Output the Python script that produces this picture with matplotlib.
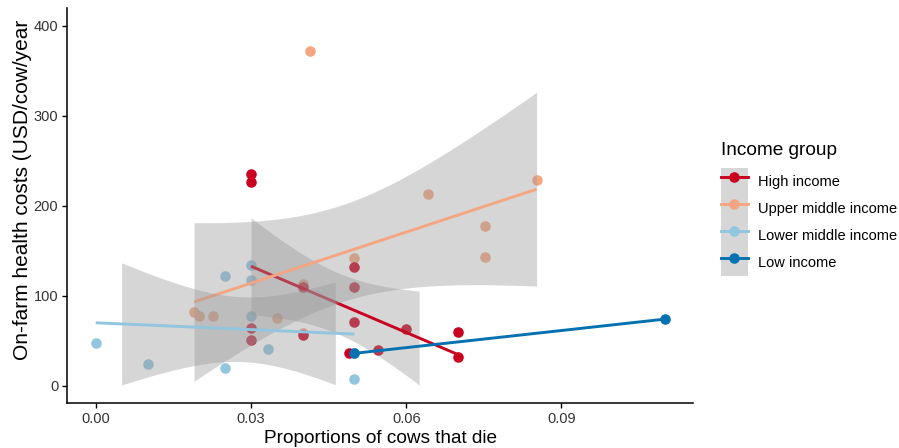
import numpy as np
import matplotlib
matplotlib.use("Agg")
import matplotlib.pyplot as plt
from matplotlib.patches import Patch
from matplotlib.lines import Line2D
from matplotlib.legend_handler import HandlerTuple

plt.rcParams['font.family'] = ['Liberation Sans', 'DejaVu Sans']

# ---------------- data ----------------
groups = ["High income", "Upper middle income", "Lower middle income", "Low income"]
colors = ["#CA0020", "#F4A582", "#92C5DE", "#0571B0"]

high_x = [0.03, 0.03, 0.03, 0.03, 0.04, 0.04, 0.05, 0.05, 0.05, 0.049, 0.0545, 0.06, 0.07, 0.07]
high_y = [235, 226, 64, 51, 110, 56, 132, 110, 71, 36, 40, 63, 60, 32]

upper_x = [0.019, 0.020, 0.0226, 0.035, 0.040, 0.040, 0.0415, 0.050, 0.0642, 0.0752, 0.0752, 0.0852]
upper_y = [82, 78, 77, 75, 113, 59, 372, 142, 213, 178, 143, 228]

lower_x = [0.0, 0.01, 0.025, 0.025, 0.03, 0.03, 0.03, 0.0333, 0.05, 0.05]
lower_y = [47, 24, 122, 20, 134, 118, 78, 41, 8, 36]

low_x = [0.05, 0.11]
low_y = [36, 74]

# x-range over which the confidence band is shown in the original figure
band_range = {"High income": (0.03, 0.0625),
              "Upper middle income": (0.019, 0.0852),
              "Lower middle income": (0.005, 0.0463)}

xticks = [0.00, 0.03, 0.06, 0.09]
xtick_labels = ["0.00", "0.03", "0.06", "0.09"]
yticks = [0, 100, 200, 300, 400]

data = {"High income": (high_x, high_y),
        "Upper middle income": (upper_x, upper_y),
        "Lower middle income": (lower_x, lower_y),
        "Low income": (low_x, low_y)}
col = dict(zip(groups, colors))

T975 = {1: 12.706, 2: 4.303, 3: 3.182, 4: 2.776, 5: 2.571, 6: 2.447, 7: 2.365,
        8: 2.306, 9: 2.262, 10: 2.228, 11: 2.201, 12: 2.179, 13: 2.160, 14: 2.145}


def lm(x, y):
    x = np.asarray(x, float)
    y = np.asarray(y, float)
    b, a = np.polyfit(x, y, 1)
    n = len(x)
    xbar = x.mean()
    sxx = ((x - xbar) ** 2).sum()
    res = y - (a + b * x)
    s = np.sqrt((res ** 2).sum() / (n - 2)) if n > 2 else np.nan
    return a, b, s, n, xbar, sxx


# ---------------- figure ----------------
fig = plt.figure(figsize=(8.99, 4.48), dpi=100)
ax = fig.add_axes([0.0749, 0.1004, 0.6963, 0.8811])

z = 2
# points first (geom_point layer)
for g in ["Upper middle income", "Lower middle income", "High income", "Low income"]:
    x, y = data[g]
    ax.plot(x, y, linestyle="none", marker="o", markersize=7.6,
            markerfacecolor=col[g], markeredgewidth=0, zorder=z)
    z += 1

# smooth layer: ribbon then line per group
for g in groups:
    x, y = data[g]
    a, b, s, n, xbar, sxx = lm(x, y)
    if g in band_range and n > 2:
        lo, hi = band_range[g]
        xs = np.linspace(lo, hi, 80)
        fit = a + b * xs
        half = T975[n - 2] * s * np.sqrt(1.0 / n + (xs - xbar) ** 2 / sxx)
        ax.fill_between(xs, fit - half, fit + half, color="#999999", alpha=0.4,
                        linewidth=0, zorder=z)
        z += 1
    xl = np.linspace(min(x), max(x), 80)
    ax.plot(xl, a + b * xl, color=col[g], linewidth=2.1, zorder=z,
            solid_capstyle="butt")
    z += 1

ax.set_xlim(-0.0055, 0.1155)
ax.set_ylim(-19.2, 419.3)
ax.set_xticks(xticks)
ax.set_xticklabels(xtick_labels)
ax.set_yticks(yticks)

for sp in ["top", "right"]:
    ax.spines[sp].set_visible(False)
for sp in ["left", "bottom"]:
    ax.spines[sp].set_linewidth(1.1)
ax.tick_params(axis="both", length=3.5, width=1.0, labelsize=10.5, color="black",
               labelcolor="#333333", pad=3)

ax.set_xlabel("Proportions of cows that die", fontsize=13.7, labelpad=3)
ax.set_ylabel("On-farm health costs (USD/cow/year", fontsize=15.0)
ax.yaxis.set_label_coords(-0.057, 0.54)

# legend
handles = []
for g in groups:
    line = Line2D([], [], color=col[g], linewidth=2.1, marker="o", markersize=7.6,
                  markeredgewidth=0)
    handles.append((Patch(facecolor="#D6D6D6", edgecolor="none"), line))
fig.legend(handles, groups, handler_map={tuple: HandlerTuple(ndivide=1, pad=0)},
           loc="upper left", bbox_to_anchor=(0.8017, 0.625), frameon=False,
           fontsize=10.5, handlelength=1.85, handleheight=2.47, labelspacing=0.0,
           handletextpad=0.73, borderpad=0.0, borderaxespad=0.0)
fig.text(0.8017, 0.665, "Income group", fontsize=13.7, ha="left", va="center")

fig.savefig("out.png", dpi=100)
